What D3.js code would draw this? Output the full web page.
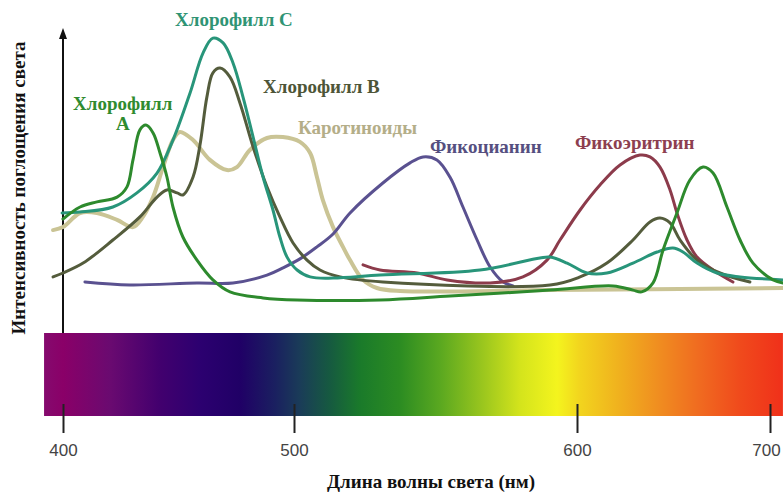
<!DOCTYPE html>
<html>
<head>
<meta charset="utf-8">
<script src="https://cdn.jsdelivr.net/npm/d3@7"></script>
<style>
body { margin: 0; background: #fff; }
svg { display: block; }
</style>
</head>
<body>
<svg id="chart"></svg>
<script>
var width = 783;
var height = 495;

// wavelength (nm) / relative absorbance
var chlA = [[400,38.0],[407.4,42.0],[414.7,43.7],[423.4,45.3],[427.7,48.7],[430.3,57.7],[433.3,67.7],[435.9,69.3],[439,66.7],[442,60],[445,52],[447.6,42],[451.9,32],[458,24.3],[464.9,17.7],[472.3,13.7],[486.6,11.7],[501.1,11],[530.4,11],[555.1,12.3],[590.5,14.3],[618.7,15.7],[629,14.3],[633.5,13.7],[639.4,16.7],[644.6,27.7],[651.8,40],[658.5,51],[665.3,55.3],[670.5,53.3],[677.7,42],[684.5,31],[691.2,23.3],[701.6,17.7],[706.7,16.7]];
var chlB = [[395.7,18.7],[400,20],[408.7,23.3],[421.6,31],[433.3,38.7],[440.7,45.3],[445,47.7],[449.4,46.7],[451.9,46],[456.3,52],[459.3,62.7],[462.3,78.7],[464.9,86.7],[468,88.3],[472.3,85.3],[476.6,76.7],[482.3,62],[488.3,48.7],[493.9,38.7],[499.6,30],[504.6,24.3],[509.2,21],[516.3,18.7],[531.4,17],[590.5,16],[601.6,18.7],[615.5,23.3],[629,31],[637.8,37],[643,38.3],[648.2,36.7],[653.4,31],[662.2,24.3],[674.1,20],[689.6,17]];
var chlC = [[399.6,40],[407.4,40.3],[421.6,42],[432,46.7],[440.7,53.3],[447.6,64.3],[455,80],[460.6,93.3],[464.9,98.3],[469.3,96.7],[473.6,90],[477.9,78.7],[482.3,65.3],[486.6,52],[490.9,41],[493.9,32],[497,25.3],[501.1,21],[505.7,18.7],[513.8,18.3],[530.4,19.3],[565.7,21],[586.9,25],[590.5,25.3],[596.5,23.3],[605.2,20],[615.5,20],[629,23.3],[641.5,27],[649.7,28.3],[654.9,27],[662.2,23.3],[672.5,20],[684.5,18.7],[706.7,17.7]];
var carot = [[395.7,34.3],[400,35.3],[407.4,40],[414.7,40],[423.4,37.7],[430.3,35.3],[434.6,38.7],[439,45.3],[443.3,55.3],[447.6,64.3],[450.6,67],[456.3,64.3],[463.6,57.7],[471,54.3],[475.3,55.3],[480.9,61],[488.3,65],[495.2,65.3],[502.1,63.7],[505.7,60],[508.1,52],[510.2,44.3],[513.8,35.3],[517.3,28.7],[519.8,24.3],[524.4,17.7],[529.3,15],[537.5,14],[590.5,14.3],[706.7,15]];
var phycocyanin = [[409.5,17],[429,16],[458,16.7],[473.6,16.7],[488.3,19.3],[495.2,21.7],[502.1,24.7],[508.1,28.7],[513.8,33],[519.8,40],[531.4,50],[541,56.7],[545.6,58.7],[550.5,57.7],[555.1,52],[559.7,42],[564.7,31],[569.3,22],[573.9,17],[577.4,15.7]];
var phycoerythrin = [[524.4,22.7],[530.4,21],[543.5,20],[554.1,17.7],[569.3,16.7],[580.9,18.7],[589.4,24.3],[594,31],[601.6,41],[611.9,49.3],[622.3,56],[632.6,59.3],[637.8,58.7],[643,55.3],[648.2,47.7],[651.8,40],[657,31],[662.2,25.3],[670.5,21],[680.8,17]];

var seriesNames = ["Каротиноиды", "Фикоцианин", "Фикоэритрин", "Хлорофилл В", "Хлорофилл С", "Хлорофилл А"];
var seriesData = [carot, phycocyanin, phycoerythrin, chlB, chlC, chlA];
var seriesColors = ["#cac495", "#5a5190", "#8c3b4b", "#545c3c", "#28957a", "#2d8a2d"];

var tickValues = [400, 500, 600, 700];
var spectrumNm = [391.8, 400, 420.3, 442, 459.3, 476.6, 491.8, 502.1, 512.7, 523.3, 537.5, 551.6, 565.7, 579.9, 593, 601.6, 622.3, 643, 663.7, 684.5, 706.7];
var spectrumColors = ["#850a6e", "#8a0068", "#6a0a70", "#42006e", "#2c0070", "#200066", "#1a2060", "#1a3c58", "#165a40", "#1a7a2a", "#2c8c22", "#5aa820", "#96c41e", "#d4e41c", "#f4f41e", "#f2d41e", "#f0b01e", "#f08c20", "#f06a20", "#f04a1c", "#f0301a"];

var x = d3.scaleLinear().domain(tickValues).range([63, 294, 577, 770]);
var y = d3.scaleLinear().domain([0, 100]).range([333, 33]);

var svg = d3.select("#chart").attr("width", width).attr("height", height);

var x0 = x(spectrumNm[0]), x1 = x(spectrumNm[spectrumNm.length - 1]);
var grad = svg.append("defs").append("linearGradient")
    .attr("id", "spectrum")
    .attr("gradientUnits", "userSpaceOnUse")
    .attr("x1", x0)
    .attr("x2", x1)
    .attr("y1", 0).attr("y2", 0);
grad.selectAll("stop")
    .data(spectrumNm)
    .enter().append("stop")
    .attr("offset", function (d) { return (x(d) - x0) / (x1 - x0); })
    .attr("stop-color", function (d, i) { return spectrumColors[i]; });

svg.append("rect")
    .attr("x", x0)
    .attr("y", 333)
    .attr("width", x1 - x0)
    .attr("height", 83)
    .style("fill", "url(#spectrum)");

// y axis arrow
svg.append("line")
    .attr("x1", x(400)).attr("x2", x(400))
    .attr("y1", 333).attr("y2", 34)
    .style("stroke", "#111")
    .style("stroke-width", 2);
svg.append("path")
    .attr("d", "M" + (x(400) - 4) + ",39L" + x(400) + ",28L" + (x(400) + 4) + ",39Z")
    .style("fill", "#111");

var line = d3.line()
    .x(function (d) { return x(d[0]); })
    .y(function (d) { return y(d[1]); })
    .curve(d3.curveCatmullRom.alpha(0.5));

svg.selectAll(".curve")
    .data(seriesData)
    .enter().append("path")
    .attr("class", "curve")
    .attr("d", line)
    .style("fill", "none")
    .style("stroke", function (d, i) { return seriesColors[i]; })
    .style("stroke-width", function (d, i) { return i == 0 ? 4 : 3; })
    .style("stroke-linecap", "round");

var axis = svg.append("g")
    .attr("transform", "translate(0,404)")
    .call(d3.axisBottom(x).tickValues(tickValues).tickSize(29).tickPadding(11).tickFormat(d3.format("d")));
axis.select(".domain").remove();
axis.selectAll("line").style("stroke", "#222").style("stroke-width", 2);
axis.selectAll("text")
    .attr("dx", function (d) { return d == 700 ? -4 : 0; })
    .style("font-family", "'Liberation Sans Narrow', 'Liberation Sans', Arial, sans-serif")
    .style("font-size", "17px")
    .style("fill", "#444");

var labels = [
    { text: "Хлорофилл С", x: 175, y: 26, color: "#2f9474" },
    { text: "Хлорофилл В", x: 263, y: 93, color: "#4d5537" },
    { text: "Хлорофилл", x: 73, y: 110, color: "#2f8b2f" },
    { text: "А", x: 116, y: 130, color: "#2f8b2f" },
    { text: "Каротиноиды", x: 298, y: 134, color: "#b4ae88" },
    { text: "Фикоцианин", x: 430, y: 153, color: "#554f80" },
    { text: "Фикоэритрин", x: 575, y: 149, color: "#8d3f50" }
];
svg.selectAll(".lbl")
    .data(labels)
    .enter().append("text")
    .attr("class", "lbl")
    .attr("x", function (d) { return d.x; })
    .attr("y", function (d) { return d.y; })
    .text(function (d) { return d.text; })
    .style("font-family", "'Liberation Serif', 'Times New Roman', serif")
    .style("font-weight", "bold")
    .style("font-size", "19px")
    .style("fill", function (d) { return d.color; });

svg.append("text")
    .attr("transform", "translate(25,188) rotate(-90)")
    .attr("text-anchor", "middle")
    .text("Интенсивность поглощения света")
    .style("font-family", "'Liberation Serif', 'Times New Roman', serif")
    .style("font-weight", "bold")
    .style("font-size", "19px")
    .style("fill", "#111");

svg.append("text")
    .attr("x", 431)
    .attr("y", 488)
    .attr("text-anchor", "middle")
    .text("Длина волны света (нм)")
    .style("font-family", "'Liberation Serif', 'Times New Roman', serif")
    .style("font-weight", "bold")
    .style("font-size", "19px")
    .style("fill", "#111");
</script>
</body>
</html>
